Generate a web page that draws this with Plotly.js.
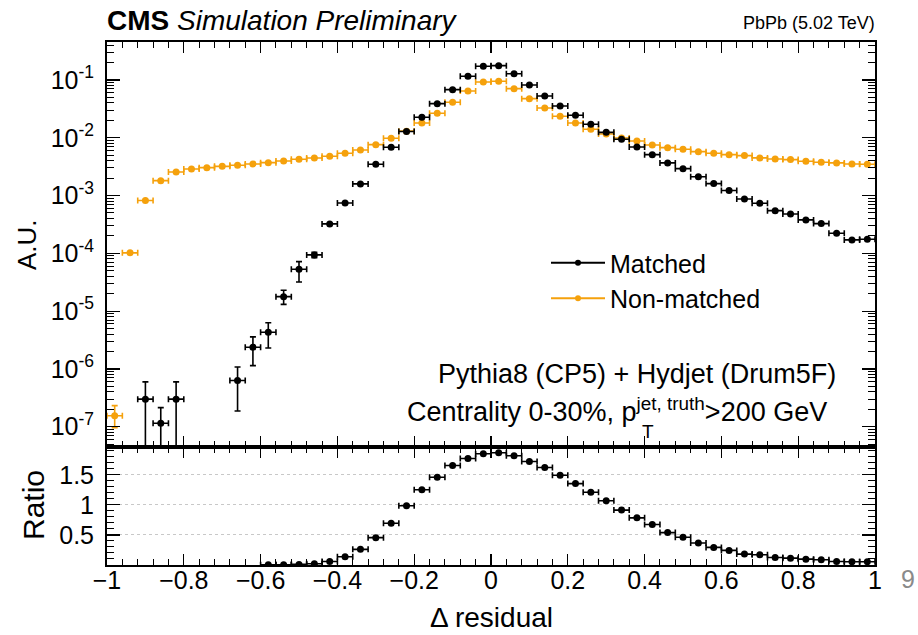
<!DOCTYPE html>
<html>
<head>
<meta charset="utf-8">
<script src="https://cdn.plot.ly/plotly-3.0.1.min.js"></script>
<style>
  html, body { margin: 0; padding: 0; background: #ffffff; }
  #chart { width: 918px; height: 635px; }
</style>
</head>
<body>
<div id="chart"></div>
<script>
// Bin centres of the Δ residual histogram (bin width 0.04 from -1 to 1)
const binCenters = [
  -0.98, -0.94, -0.90, -0.86, -0.82, -0.78, -0.74, -0.70, -0.66, -0.62,
  -0.58, -0.54, -0.50, -0.46, -0.42, -0.38, -0.34, -0.30, -0.26, -0.22,
  -0.18, -0.14, -0.10, -0.06, -0.02,  0.02,  0.06,  0.10,  0.14,  0.18,
   0.22,  0.26,  0.30,  0.34,  0.38,  0.42,  0.46,  0.50,  0.54,  0.58,
   0.62,  0.66,  0.70,  0.74,  0.78,  0.82,  0.86,  0.90,  0.94,  0.98
];
const binHalfWidth = 0.02;

// Normalised distributions (A.U.)
const matched = [
  null, null, 3.0e-7, 1.15e-7, 3.0e-7, null, null, null, 6.3e-7, 2.37e-6,
  4.3e-6, 1.78e-5, 5.3e-5, 9.4e-5, 3.23e-4, 7.45e-4, 1.59e-3, 3.47e-3, 6.84e-3, 1.28e-2,
  2.26e-2, 3.89e-2, 6.8e-2, 0.116, 0.173, 0.177, 0.128, 8.19e-2, 5.28e-2, 3.55e-2,
  2.45e-2, 1.71e-2, 1.24e-2, 9.4e-3, 6.93e-3, 5.1e-3, 3.67e-3, 2.92e-3, 2.12e-3, 1.61e-3,
  1.22e-3, 8.7e-4, 7.36e-4, 5.48e-4, 4.8e-4, 3.79e-4, 3.27e-4, 2.23e-4, 1.71e-4, 1.75e-4
];
const matchedErrUp = [
  0, 0, 2.96e-7, 0.99e-7, 2.96e-7, 0, 0, 0, 4.5e-7, 1.21e-6,
  2.0e-6, 5.2e-6, 1.9e-5, 1.0e-5, 0, 0, 0, 0, 0, 0,
  0, 0, 0, 0, 0, 0, 0, 0, 0, 0,
  0, 0, 0, 0, 0, 0, 0, 0, 0, 0,
  0, 0, 0, 0, 0, 0, 0, 0, 0, 0
];
const matchedErrDown = [
  0, 0, 2.99e-7, 1.14e-7, 2.99e-7, 0, 0, 0, 4.43e-7, 1.23e-6,
  2.0e-6, 4.7e-6, 2.1e-5, 1.0e-5, 0, 0, 0, 0, 0, 0,
  0, 0, 0, 0, 0, 0, 0, 0, 0, 0,
  0, 0, 0, 0, 0, 0, 0, 0, 0, 0,
  0, 0, 0, 0, 0, 0, 0, 0, 0, 0
];

const nonMatched = [
  1.55e-7, 1.02e-4, 8.2e-4, 1.81e-3, 2.56e-3, 2.88e-3, 3.04e-3, 3.2e-3, 3.34e-3, 3.52e-3,
  3.71e-3, 3.97e-3, 4.25e-3, 4.47e-3, 4.78e-3, 5.39e-3, 6.15e-3, 7.6e-3, 9.8e-3, 1.3e-2,
  1.80e-2, 2.65e-2, 4.11e-2, 6.46e-2, 9.2e-2, 9.5e-2, 7.08e-2, 4.75e-2, 3.28e-2, 2.35e-2,
  1.80e-2, 1.40e-2, 1.16e-2, 9.9e-3, 8.8e-3, 7.5e-3, 6.74e-3, 6.32e-3, 5.75e-3, 5.39e-3,
  5.1e-3, 4.91e-3, 4.48e-3, 4.3e-3, 4.19e-3, 3.92e-3, 3.77e-3, 3.67e-3, 3.52e-3, 3.47e-3
];
const nonMatchedErrUp = [
  0.77e-7, 0, 0, 0, 0, 0, 0, 0, 0, 0,
  0, 0, 0, 0, 0, 0, 0, 0, 0, 0,
  0, 0, 0, 0, 0, 0, 0, 0, 0, 0,
  0, 0, 0, 0, 0, 0, 0, 0, 0, 0,
  0, 0, 0, 0, 0, 0, 0, 0, 0, 0
];
const nonMatchedErrDown = [
  0.59e-7, 0, 0, 0, 0, 0, 0, 0, 0, 0,
  0, 0, 0, 0, 0, 0, 0, 0, 0, 0,
  0, 0, 0, 0, 0, 0, 0, 0, 0, 0,
  0, 0, 0, 0, 0, 0, 0, 0, 0, 0,
  0, 0, 0, 0, 0, 0, 0, 0, 0, 0
];

// Matched / Non-matched
const ratio = [
  null, null, null, null, null, null, null, null, null, null,
  0.004, 0.005, 0.010, 0.020, 0.059, 0.137, 0.260, 0.455, 0.695, 0.985,
  1.253, 1.460, 1.655, 1.772, 1.851, 1.868, 1.817, 1.722, 1.622, 1.494,
  1.354, 1.209, 1.069, 0.913, 0.784, 0.673, 0.539, 0.461, 0.365, 0.293,
  0.243, 0.181, 0.171, 0.126, 0.114, 0.097, 0.087, 0.059, 0.054, 0.054
];

const seriesNames = ['Matched', 'Non-matched'];
const xTickVals = [-1, -0.8, -0.6, -0.4, -0.2, 0, 0.2, 0.4, 0.6, 0.8, 1];
const xTickText = ['\u22121', '\u22120.8', '\u22120.6', '\u22120.4', '\u22120.2', '0', '0.2', '0.4', '0.6', '0.8', '1'];
const yTickVals = [1e-7, 1e-6, 1e-5, 1e-4, 1e-3, 1e-2, 1e-1];
const yTickText = ['10<sup>-7</sup>', '10<sup>-6</sup>', '10<sup>-5</sup>', '10<sup>-4</sup>',
                   '10<sup>-3</sup>', '10<sup>-2</sup>', '10<sup>-1</sup>'];
const ratioTickVals = [0.5, 1, 1.5];
const ratioTickText = ['0.5', '1', '1.5'];

const BLACK = '#000000';
const ORANGE = '#f5a10c';
const FONT = 'Liberation Sans, Arial, Helvetica, sans-serif';

// Pixel helpers for placing decorations around the plot frame
const W = 918, H = 635;
const M = { l: 107, r: 43, t: 42, b: 70 };
const plotW = W - M.l - M.r, plotH = H - M.t - M.b;
const px = (x) => (x - M.l) / plotW;
const py = (y) => (H - M.b - y) / plotH;
const split = py(447);

function histTrace(y, up, down, color, yaxis, xaxis) {
  return {
    type: 'scatter', mode: 'markers',
    x: binCenters, y: y, xaxis: xaxis, yaxis: yaxis,
    showlegend: false, cliponaxis: true,
    marker: { color: color, size: 7, symbol: 'circle' },
    error_x: { type: 'constant', value: binHalfWidth, width: 3, thickness: 1.6, color: color },
    error_y: up ? { type: 'data', symmetric: false, array: up, arrayminus: down, width: 3, thickness: 1.6, color: color }
                : { visible: false }
  };
}

const traces = [
  histTrace(nonMatched, nonMatchedErrUp, nonMatchedErrDown, ORANGE, 'y', 'x'),
  histTrace(matched, matchedErrUp, matchedErrDown, BLACK, 'y', 'x'),
  histTrace(ratio, null, null, BLACK, 'y2', 'x2'),
  // legend entries (line + marker symbol)
  { type: 'scatter', mode: 'lines+markers', x: [null], y: [null], xaxis: 'x', yaxis: 'y',
    name: seriesNames[0], line: { color: BLACK, width: 2 }, marker: { color: BLACK, size: 6 } },
  { type: 'scatter', mode: 'lines+markers', x: [null], y: [null], xaxis: 'x', yaxis: 'y',
    name: seriesNames[1], line: { color: ORANGE, width: 2 }, marker: { color: ORANGE, size: 6 } }
];

const frameAxis = {
  showline: true, linecolor: BLACK, linewidth: 2, mirror: 'allticks',
  ticks: 'inside', tickcolor: BLACK, tickwidth: 1.2,
  zeroline: false, showgrid: false
};

const layout = {
  width: W, height: H,
  margin: M,
  paper_bgcolor: '#ffffff', plot_bgcolor: '#ffffff',
  font: { family: FONT, color: BLACK, size: 25 },
  showlegend: true,
  legend: {
    x: px(546), y: py(240), xanchor: 'left', yanchor: 'top',
    bgcolor: 'rgba(0,0,0,0)', borderwidth: 0,
    font: { family: FONT, size: 25, color: BLACK },
    itemwidth: 54, tracegroupgap: 0
  },
  xaxis: Object.assign({}, frameAxis, {
    domain: [0, 1], anchor: 'y', range: [-1, 1],
    tickvals: xTickVals, showticklabels: false, ticklen: 11,
    minor: { dtick: 0.04, tick0: -1, ticks: 'inside', ticklen: 6, tickcolor: BLACK, tickwidth: 1 }
  }),
  yaxis: Object.assign({}, frameAxis, {
    domain: [split, 1], anchor: 'x', type: 'log',
    range: [-7.351, -0.343], tickvals: yTickVals, ticktext: yTickText,
    ticklen: 13, tickfont: { size: 25, family: FONT },
    ticklabelstandoff: 6,
    minor: { dtick: 'D1', ticks: 'inside', ticklen: 7, tickcolor: BLACK, tickwidth: 1 }
  }),
  xaxis2: Object.assign({}, frameAxis, {
    domain: [0, 1], anchor: 'y2', range: [-1, 1], matches: 'x',
    tickvals: xTickVals, ticktext: xTickText, ticklen: 11,
    tickfont: { size: 25, family: FONT }, ticklabelstandoff: -8,
    minor: { dtick: 0.04, tick0: -1, ticks: 'inside', ticklen: 6, tickcolor: BLACK, tickwidth: 1 }
  }),
  yaxis2: Object.assign({}, frameAxis, {
    domain: [0, split], anchor: 'x2', range: [0, 1.963],
    tickvals: ratioTickVals, ticktext: ratioTickText, ticklen: 13,
    tickfont: { size: 25, family: FONT }, ticklabelstandoff: 6,
    showgrid: true, gridcolor: '#c8c8c8', griddash: 'dot', gridwidth: 1,
    minor: { dtick: 0.1, tick0: 0, ticks: 'inside', ticklen: 7, tickcolor: BLACK, tickwidth: 1, showgrid: false }
  }),
  annotations: [
    { xref: 'paper', yref: 'paper', x: px(105), y: py(21), xanchor: 'left', yanchor: 'middle',
      text: '<b>CMS</b> <i>Simulation Preliminary</i>', showarrow: false,
      font: { family: FONT, size: 28, color: BLACK } },
    { xref: 'paper', yref: 'paper', x: px(877), y: py(23), xanchor: 'right', yanchor: 'middle',
      text: 'PbPb (5.02 TeV)', showarrow: false,
      font: { family: FONT, size: 18, color: BLACK } },
    { xref: 'paper', yref: 'paper', x: px(838), y: py(374), xanchor: 'right', yanchor: 'middle',
      text: 'Pythia8 (CP5) + Hydjet (Drum5F)', showarrow: false,
      font: { family: FONT, size: 27, color: BLACK } },
    { xref: 'paper', yref: 'paper', x: px(829), y: py(410), xanchor: 'right', yanchor: 'middle',
      text: 'Centrality 0-30%, p<sup>jet, truth</sup>&gt;200 GeV', showarrow: false,
      font: { family: FONT, size: 27, color: BLACK } },
    { xref: 'paper', yref: 'paper', x: px(648), y: py(431), xanchor: 'center', yanchor: 'middle',
      text: 'T', showarrow: false,
      font: { family: FONT, size: 19, color: BLACK } },
    { xref: 'paper', yref: 'paper', x: px(27), y: py(245), xanchor: 'center', yanchor: 'middle',
      text: 'A.U.', textangle: -90, showarrow: false,
      font: { family: FONT, size: 26, color: BLACK } },
    { xref: 'paper', yref: 'paper', x: px(33), y: py(505), xanchor: 'center', yanchor: 'middle',
      text: 'Ratio', textangle: -90, showarrow: false,
      font: { family: FONT, size: 30, color: BLACK } },
    { xref: 'paper', yref: 'paper', x: px(491), y: py(617), xanchor: 'center', yanchor: 'middle',
      text: '\u0394 residual', showarrow: false,
      font: { family: FONT, size: 28, color: BLACK } },
    { xref: 'paper', yref: 'paper', x: px(908), y: py(579), xanchor: 'center', yanchor: 'middle',
      text: '9', showarrow: false,
      font: { family: FONT, size: 25, color: '#8a8a8a' } }
  ]
};

Plotly.newPlot('chart', traces, layout, { displayModeBar: false, staticPlot: true });
</script>
</body>
</html>
